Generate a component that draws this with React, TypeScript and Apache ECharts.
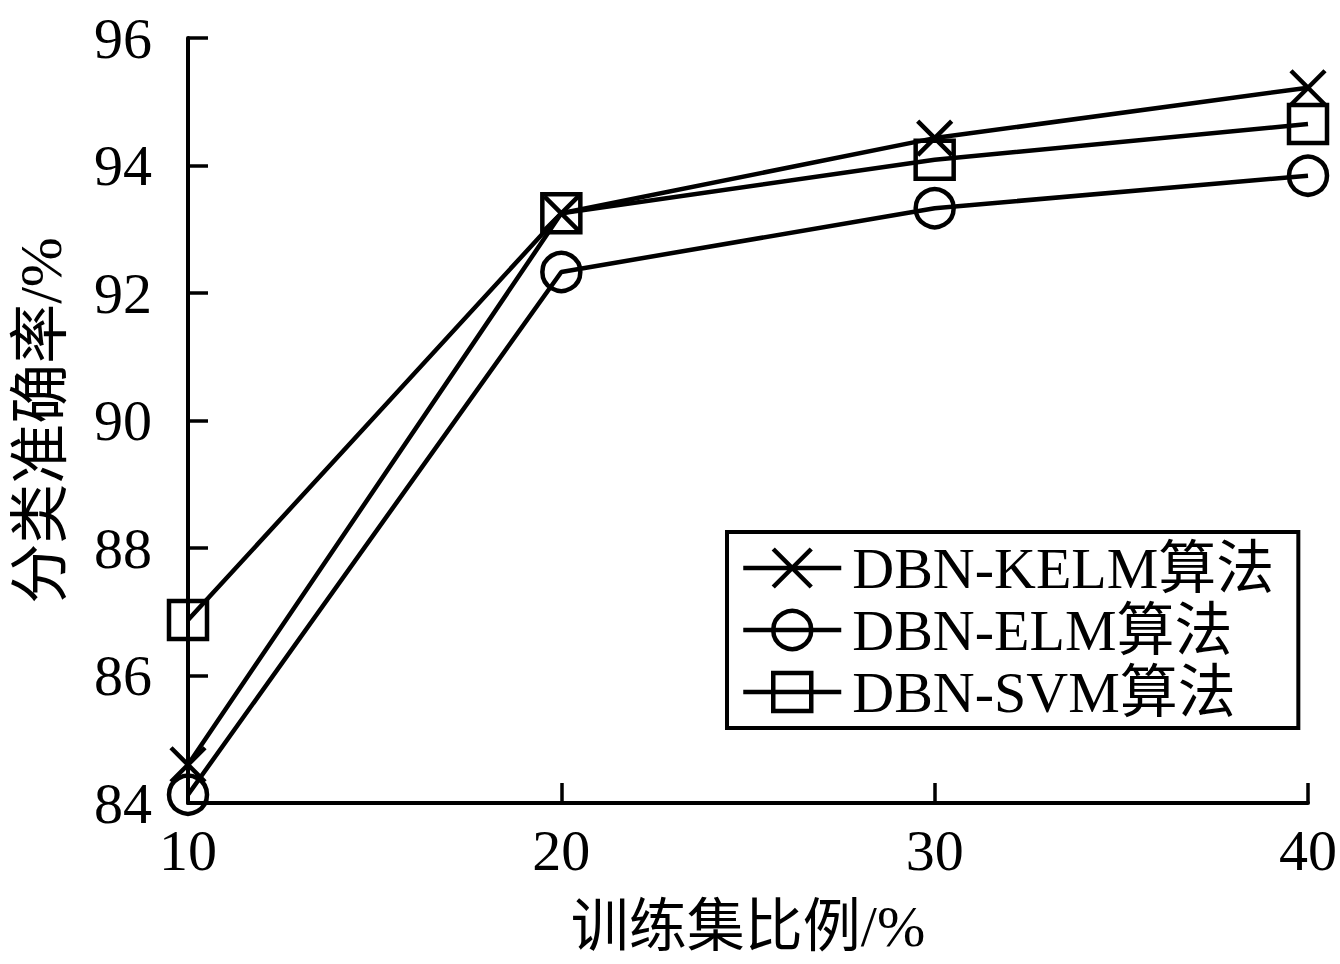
import React, { useEffect, useRef } from "react";
import * as echarts from "echarts";

const xValues = [10, 20, 30, 40];
const kelm = [84.6, 93.25, 94.43, 95.22];
const elm = [84.13, 92.33, 93.33, 93.84];
const svm = [86.87, 93.25, 94.09, 94.65];
const seriesNames = ["DBN-KELM算法", "DBN-ELM算法", "DBN-SVM算法"];
const xAxisName = "训练集比例/%";
const yAxisName = "分类准确率/%";

const FONT = '"Liberation Serif", "Times New Roman", "Noto Sans CJK SC", serif';

export default function App() {
  const ref = useRef<HTMLDivElement>(null);
  useEffect(() => {
    if (!ref.current) return;
    const chart = echarts.init(ref.current, null, { renderer: "svg" });
    const mk = (vals: number[]) => xValues.map((x, i) => [x, vals[i]]);
    const common = {
      type: "line",
      symbolSize: 38,
      lineStyle: { color: "#000", width: 4.5 },
      itemStyle: { color: "rgba(0,0,0,0)", borderColor: "#000", borderWidth: 4.5 },
      emphasis: { disabled: true },
    };
    chart.setOption({
      animation: false,
      backgroundColor: "#fff",
      grid: { left: 188, right: 29, top: 38, bottom: 161 },
      xAxis: {
        type: "value",
        min: 10,
        max: 40,
        interval: 10,
        name: xAxisName,
        nameLocation: "middle",
        nameGap: 94,
        nameTextStyle: { fontFamily: FONT, fontSize: 58, color: "#000" },
        axisLine: { lineStyle: { color: "#000", width: 4 } },
        axisTick: { inside: true, length: 20, lineStyle: { color: "#000", width: 3.5 } },
        axisLabel: { fontFamily: FONT, fontSize: 58, color: "#000", margin: 18 },
        splitLine: { show: false },
      },
      yAxis: {
        type: "value",
        min: 84,
        max: 96,
        interval: 2,
        name: yAxisName,
        nameLocation: "middle",
        nameGap: 117,
        nameTextStyle: { fontFamily: FONT, fontSize: 60, color: "#000" },
        axisLine: { show: true, lineStyle: { color: "#000", width: 4 } },
        axisTick: { show: true, inside: true, length: 20, lineStyle: { color: "#000", width: 3.5 } },
        axisLabel: { fontFamily: FONT, fontSize: 58, color: "#000", margin: 36 },
        splitLine: { show: false },
      },
      legend: {
        orient: "vertical",
        left: 727,
        top: 532,
        padding: [7, 24, 7, 14],
        itemGap: 4,
        itemWidth: 98,
        itemHeight: 47.5,
        borderColor: "#000",
        borderWidth: 4,
        backgroundColor: "#fff",
        lineStyle: { width: 4.5, color: "#000" },
        itemStyle: { borderWidth: 4.5, borderColor: "#000", color: "rgba(0,0,0,0)" },
        textStyle: { fontFamily: FONT, fontSize: 58, color: "#000", lineHeight: 58, padding: [0, 0, 0, 6] },
        data: seriesNames,
      },
      series: [
        { ...common, name: seriesNames[0], symbol: "path://M0 0L10 10M10 0L0 10", symbolSize: 34, data: mk(kelm) },
        { ...common, name: seriesNames[1], symbol: "circle", data: mk(elm) },
        { ...common, name: seriesNames[2], symbol: "rect", data: mk(svm) },
      ],
    });
    return () => chart.dispose();
  }, []);
  return (
    <div
      ref={ref}
      style={{ position: "absolute", left: 0, top: 0, width: 1340, height: 964, background: "#fff" }}
    />
  );
}
